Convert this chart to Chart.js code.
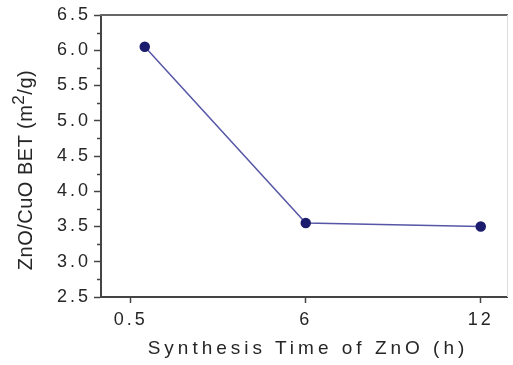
<!DOCTYPE html>
<html>
<head>
<meta charset="utf-8">
<script src="https://cdn.jsdelivr.net/npm/chart.js@4"></script>
<style>
body { margin: 0; background: #fff; }
#wrap { position: relative; width: 513px; height: 365px; overflow: hidden; }
canvas { position: absolute; left: 0; top: 0; }
.ttl { position: absolute; font-family: 'Liberation Sans', Arial, sans-serif; color: #262626; white-space: nowrap; text-align: center; }
#xt { left: 108px; width: 400px; top: 337px; font-size: 19px; letter-spacing: 4px; }
#yt { left: -125px; width: 300px; top: 158px; height: 24px; line-height: 24px; font-size: 20px; letter-spacing: 0.5px; transform: rotate(-90deg); }
#yt sup { font-size: 85%; line-height: 0; }
</style>
</head>
<body>
<div id="wrap">
	<canvas id="myChart" width="513" height="365"></canvas>
	<div class="ttl" id="yt">ZnO/CuO BET (m<sup>2</sup>/g)</div>
	<div class="ttl" id="xt">Synthesis Time of ZnO (h)</div>
</div>
<script>
const timeLabels = ['0.5', '6', '12']
// where each point sits along the (category) axis
const timePos = [0.08, 1, 2]
const betArea = [6.05, 3.55, 3.5]

const font = "'Liberation Sans', Arial, sans-serif"

// letter spaced tick labels like the original figure
const spacing = {
	id: 'spacing',
	beforeUpdate(chart) { chart.ctx.letterSpacing = '3px' },
	beforeDraw(chart) { chart.ctx.letterSpacing = '3px' },
}

// short minor ticks on y, plus the frame on top/right
const frame = {
	id: 'frame',
	afterDraw(chart) {
		const c = chart.ctx
		const a = chart.chartArea
		const y = chart.scales.y
		c.save()
		c.strokeStyle = '#444'
		c.lineWidth = 1.5
		for (let v = y.min + 0.25; v < y.max; v += 0.5) {
			const py = Math.round(y.getPixelForValue(v)) + 0.5
			c.beginPath()
			c.moveTo(a.left - 4, py)
			c.lineTo(a.left, py)
			c.stroke()
		}
		c.strokeStyle = '#666'
		c.lineWidth = 2
		c.beginPath()
		c.moveTo(a.left - 1, a.top)
		c.lineTo(a.right + 1, a.top)
		c.stroke()
		c.strokeStyle = '#ddd'
		c.lineWidth = 1
		c.beginPath()
		c.moveTo(a.right + 0.5, a.top)
		c.lineTo(a.right + 0.5, a.bottom)
		c.stroke()
		c.restore()
	},
}

const ctx = document.getElementById('myChart')

const myChart = new Chart(ctx, {
	type: 'line',
	data: {
		datasets: [
			{
				data: betArea.map((v, i) => ({ x: timePos[i], y: v })),
				borderColor: '#5656a6',
				borderWidth: 1.5,
				pointBackgroundColor: '#1c1c6e',
				pointBorderColor: '#1c1c6e',
				pointRadius: 4.5,
				tension: 0,
			},
		],
	},
	options: {
		responsive: false,
		animation: false,
		layout: { padding: { top: 15, right: 1, left: 0, bottom: 0 } },
		plugins: {
			legend: { display: false },
			tooltip: { enabled: false },
		},
		scales: {
			x: {
				type: 'linear',
				min: -0.17,
				max: 2.15,
				afterBuildTicks: (s) => {
					s.ticks = timeLabels.map((t, i) => ({ value: i }))
				},
				afterFit: (s) => { s.height = 68 },
				ticks: {
					callback: (v) => timeLabels[v],
					font: { size: 18, family: font },
					color: '#262626',
					padding: 6,
					maxRotation: 0,
					autoSkip: false,
				},
				grid: { drawOnChartArea: false, tickLength: 6, tickColor: '#444', tickWidth: 1.5 },
				border: { color: '#444', width: 2 },
			},
			y: {
				min: 2.5,
				max: 6.5,
				afterFit: (s) => { s.width = 101 },
				ticks: {
					stepSize: 0.5,
					callback: (v) => v.toFixed(1),
					font: { size: 18, family: font },
					color: '#262626',
					padding: 3,
				},
				grid: { drawOnChartArea: false, tickLength: 7, tickColor: '#444', tickWidth: 1.5 },
				border: { color: '#444', width: 2 },
			},
		},
	},
	plugins: [spacing, frame],
})
</script>
</body>
</html>
